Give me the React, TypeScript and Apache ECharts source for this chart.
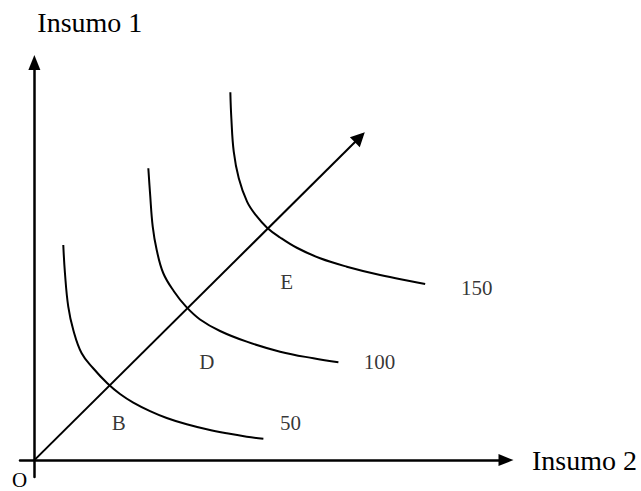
import React, { useEffect, useRef } from "react";
import * as echarts from "echarts";

// Isoquant curves (x = Insumo 2, y = Insumo 1)
const curve50: number[][] = [
  [6.04, 50.97], [6.39, 44.27], [7.08, 36.35], [8.13, 30.83], [9.88, 25.31],
  [12.24, 21.82], [15.23, 18.2], [17.89, 15.66], [20.66, 13.63], [24.16, 11.61],
  [27.64, 9.98], [31.82, 8.48], [36.0, 7.3], [40.18, 6.35], [44.36, 5.55], [47.83, 5.05],
];
const curve100: number[][] = [
  [23.8, 69.15], [24.16, 63.22], [24.72, 55.31], [25.55, 49.79], [26.93, 44.27],
  [29.17, 39.95], [31.68, 36.35], [34.6, 33.32], [38.78, 30.59], [44.36, 28.06],
  [51.32, 25.69], [58.27, 24.12], [63.5, 23.18],
];
const curve150: number[][] = [
  [40.93, 87.16], [41.14, 81.0], [41.64, 73.08], [42.69, 66.78], [44.42, 61.23],
  [46.3, 57.96], [48.6, 55.07], [51.32, 52.75], [54.81, 50.31], [59.68, 47.82],
  [65.25, 45.83], [72.21, 43.86], [79.17, 42.27], [81.62, 41.73],
];

// Expansion path ray
const rayStart = [0, 0];
const rayEnd = [67.97, 76.49];

// Level labels and point labels
const levelNames = ["50", "100", "150"];
const levelLabelX = [53.5, 72.1, 92.4];
const levelLabelY = [8.8, 23.3, 40.8];
const pointNames = ["B", "D", "E"];
const pointLabelX = [17.6, 36.0, 52.7];
const pointLabelY = [8.8, 23.3, 42.2];

const xTitle = "Insumo 2";
const yTitle = "Insumo 1";
const originLabel = "O";

export default function App() {
  const ref = useRef<HTMLDivElement>(null);
  useEffect(() => {
    const chart = echarts.init(ref.current!, null, { renderer: "svg" });
    const font = "'Liberation Serif', 'Times New Roman', serif";
    const labelData = [
      ...levelNames.map((n, i) => ({ name: n, value: [levelLabelX[i], levelLabelY[i]] })),
      ...pointNames.map((n, i) => ({ name: n, value: [pointLabelX[i], pointLabelY[i]] })),
    ];
    const curves = [curve50, curve100, curve150].map((d, i) => ({
      type: "line",
      name: levelNames[i],
      data: d,
      smooth: 0.4,
      symbol: "none",
      showSymbol: false,
      clip: false,
      lineStyle: { color: "#000", width: 2 },
    }));
    chart.setOption({
      animation: false,
      grid: { left: 20, right: 135, top: 62.5, bottom: 14 },
      xAxis: {
        type: "value",
        min: -3,
        max: 98.5,
        name: xTitle,
        nameLocation: "end",
        nameGap: 26,
        nameTextStyle: {
          fontFamily: font, fontSize: 28, color: "#000",
          align: "left", verticalAlign: "middle", padding: [0, 0, 14, 0],
        },
        axisLine: {
          onZero: true,
          symbol: ["none", "triangle"],
          symbolSize: [12, 15],
          lineStyle: { color: "#000", width: 2.5 },
        },
        axisTick: { show: false },
        axisLabel: { show: false },
        splitLine: { show: false },
      },
      yAxis: {
        type: "value",
        min: -4,
        max: 94.2,
        name: yTitle,
        nameLocation: "end",
        nameGap: 40.5,
        nameTextStyle: {
          fontFamily: font, fontSize: 28, color: "#000",
          align: "left", verticalAlign: "middle", padding: [0, 0, 0, 3],
        },
        axisLine: {
          onZero: true,
          symbol: ["none", "triangle"],
          symbolSize: [12, 15],
          lineStyle: { color: "#000", width: 2.5 },
        },
        axisTick: { show: false },
        axisLabel: { show: false },
        splitLine: { show: false },
      },
      graphic: [
        {
          type: "text",
          left: 12,
          top: 469,
          style: { text: originLabel, font: `21px ${font}`, fill: "#000" },
        },
      ],
      series: [
        ...curves,
        {
          type: "lines",
          coordinateSystem: "cartesian2d",
          symbol: ["none", "triangle"],
          symbolSize: 14,
          lineStyle: { color: "#000", width: 2, opacity: 1 },
          data: [{ coords: [rayStart, rayEnd] }],
        },
        {
          type: "scatter",
          symbolSize: 0,
          clip: false,
          data: labelData,
          label: {
            show: true,
            position: "inside",
            formatter: "{b}",
            fontFamily: font,
            fontSize: 21,
            color: "#000",
          },
        },
      ],
    });
    return () => chart.dispose();
  }, []);
  return (
    <div
      ref={ref}
      style={{ position: "absolute", left: 0, top: 0, width: 641, height: 491, background: "#fff" }}
    />
  );
}
